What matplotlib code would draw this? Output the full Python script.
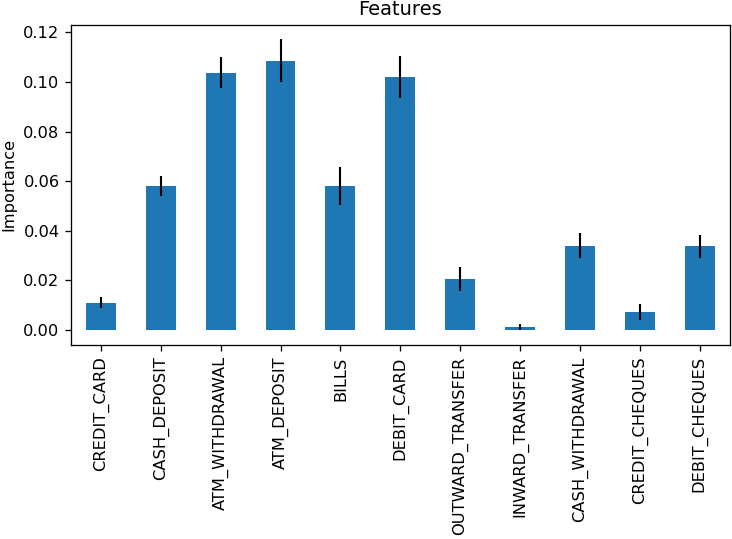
import matplotlib
matplotlib.use("Agg")
import matplotlib.pyplot as plt
import pandas as pd

features = ["CREDIT_CARD", "CASH_DEPOSIT", "ATM_WITHDRAWAL", "ATM_DEPOSIT", "BILLS",
            "DEBIT_CARD", "OUTWARD_TRANSFER", "INWARD_TRANSFER", "CASH_WITHDRAWAL",
            "CREDIT_CHEQUES", "DEBIT_CHEQUES"]
importance = [0.0110, 0.0581, 0.1038, 0.1086, 0.0580, 0.1021, 0.0204, 0.0011, 0.0340, 0.0072, 0.0337]
std = [0.0023, 0.0041, 0.0061, 0.0087, 0.0077, 0.0085, 0.0048, 0.0013, 0.0051, 0.0031, 0.0046]

DPI = 117
fig, ax = plt.subplots(figsize=(732 / DPI, 539 / DPI), dpi=DPI)
s = pd.Series(importance, index=features)
s.plot.bar(yerr=std, ax=ax, color="#1f77b4", error_kw=dict(lw=1.3))
ax.set_title("Features")
ax.set_ylabel("Importance")
fig.subplots_adjust(left=71 / 732, right=729.5 / 732, top=1 - 24.5 / 539, bottom=1 - 345 / 539)
fig.savefig("out.png", dpi=DPI)
